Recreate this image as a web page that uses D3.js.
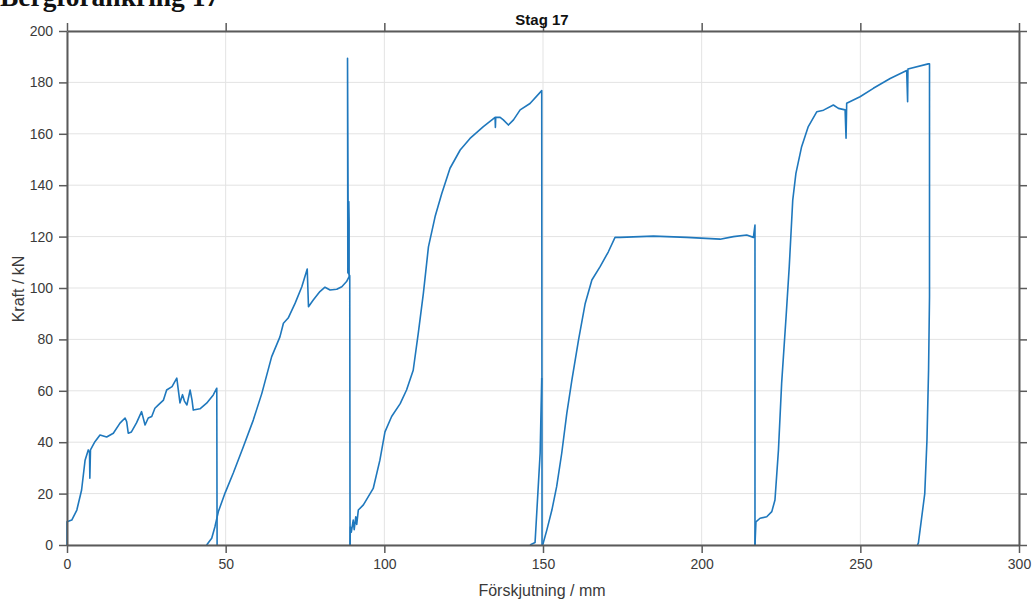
<!DOCTYPE html>
<html>
<head>
<meta charset="utf-8">
<script src="https://cdn.jsdelivr.net/npm/d3@7"></script>
<style>
  html, body { margin: 0; padding: 0; background: #fff; }
  svg { display: block; }
</style>
</head>
<body>
<svg id="chart" width="1036" height="604"></svg>
<script>
// ---- data ----
const pageTitle = "Bergförankring 17";
const chartTitle = "Stag 17";
const xLabel = "Förskjutning / mm";
const yLabel = "Kraft / kN";
const xTicks = [0, 50, 100, 150, 200, 250, 300];
const yTicks = [0, 20, 40, 60, 80, 100, 120, 140, 160, 180, 200];

// displacement (mm) and force (kN), in recorded order
const cycle1 = [[0,0],[0,9],[1.5,9.7],[3.1,13.6],[4.6,21.4],[5.7,33],[6.7,37],[7.1,36],[7.2,26],[7.4,37],[8.8,40.2],[10.4,42.8],[12.5,42],[14.6,43.5],[16.7,47.4],[18.3,49.4],[18.8,48],[19.3,43.5],[20.3,44],[21.9,47.5],[23.5,51.9],[24.6,46.7],[25.6,49.4],[26.7,50],[27.7,53.2],[28.8,54.5],[30.4,56.4],[31.4,60.3],[33.1,61.6],[34.6,64.9],[35.6,55.3],[36.4,58.5],[37,56],[37.8,54.5],[38.8,60.3],[39.4,56.4],[39.8,52.5],[41.9,53],[44,55.2],[46.1,58.4],[47.2,61],[47.3,0]];
const cycle2 = [[44,0],[45.6,2.6],[46.6,7],[47.7,13],[49.8,20.2],[52.4,28],[55.6,38.3],[58.7,48.6],[61.4,59],[64.5,73.3],[67.1,81],[68.2,86.3],[69.7,88.3],[71.9,94.1],[74,100.5],[75.7,107.4],[76.1,92.7],[77.6,95.3],[79.7,98.6],[81.3,100.3],[82.9,99.2],[85,99.5],[86.6,100.5],[88.1,102.5],[88.9,104.4],[88.9,125.8],[88.8,133.6],[88.6,128],[88.4,189.4],[88.5,106],[89.1,104.8],[89.2,0]];
const cycle3 = [[89.2,0],[89.3,7],[89.6,5],[90.2,9.7],[90.5,6],[91,11],[91.3,8],[91.8,13.6],[93.4,15.6],[96.5,22],[98.6,33],[100.2,44],[102.3,50],[105,55],[107,60.3],[109.1,68],[110.7,82.4],[112.3,97.9],[113.9,116],[116,127.8],[118.1,136.8],[120.7,146.6],[123.9,153.7],[127,158.2],[131.2,162.8],[134.9,166.4],[135,162.5],[135.1,166.4],[136.5,166.4],[137.5,165.4],[139.1,163.4],[140.7,165.4],[142.8,169.3],[145.9,171.8],[149.6,176.8],[149.7,0]];
const unload3 = [[145.9,0],[147.5,1],[148.5,22.7],[149.1,35.8],[149.6,65]];
const cycle4 = [[149.9,0],[151.2,5.8],[152.8,13.6],[154.3,22.7],[155.9,35.7],[157.5,51.2],[159.1,64.2],[161.2,79.8],[163.3,94],[165.4,103.1],[168,108.3],[170.6,114.1],[172.7,119.7],[174.3,119.7],[184.8,120.2],[195.3,119.7],[205.8,119],[210,120],[214.2,120.6],[216.3,119.7],[216.8,124.5],[216.8,0]];
const cycle5 = [[216.8,0],[217.1,9],[218.4,10.4],[220.5,11],[222.1,13],[223.1,17.5],[224.2,37],[225.2,62.9],[226.6,88.8],[227.6,108.3],[228.7,134.2],[229.7,144.6],[231.5,155],[233.6,162.8],[236.3,168.6],[238.4,169.2],[241.5,171.2],[243.1,169.9],[245.2,169.3],[245.5,158.3],[245.7,171.9],[249.9,174.4],[254.1,177.7],[259.4,181.5],[264.6,184.6],[264.9,172.5],[265,185.2],[271.4,187.2],[271.8,187.2],[271.8,96.6],[271.5,68],[271,40.9],[270.3,20],[268.3,0.8],[268,0]];
const segments = [cycle1, cycle2, cycle3, unload3, cycle4, cycle5];

// ---- layout ----
const svg = d3.select("#chart");
const L = 67, R = 1019, T = 31, B = 545;
const x = d3.scaleLinear().domain([0, 300]).range([L, R]);
const y = d3.scaleLinear().domain([0, 200]).range([B, T]);
const font = "'Liberation Sans', Arial, sans-serif";

svg.append("rect").attr("width", 1036).attr("height", 604).attr("fill", "#fff");

// grid
const grid = svg.append("g").attr("stroke", "#e3e3e3").attr("stroke-width", 1);
grid.selectAll("line.gx").data(xTicks).join("line")
  .attr("x1", d => x(d)).attr("x2", d => x(d)).attr("y1", T).attr("y2", B);
grid.selectAll("line.gy").data(yTicks).join("line")
  .attr("x1", L).attr("x2", R).attr("y1", d => y(d)).attr("y2", d => y(d));

// data line
const line = d3.line().x(d => x(d[0])).y(d => y(d[1]));
svg.append("g").selectAll("path").data(segments).join("path")
  .attr("d", line)
  .attr("fill", "none")
  .attr("stroke", "#1f78bd")
  .attr("stroke-width", 1.6)
  .attr("stroke-linejoin", "round");

// axes
function styleAxis(g, labels) {
  g.selectAll(".domain").attr("stroke", "#5a5a5a").attr("stroke-width", 2);
  g.selectAll(".tick line").attr("stroke", "#5a5a5a").attr("stroke-width", 1.5);
  g.selectAll(".tick text").attr("fill", "#3a3a3a").style("font-family", font).style("font-size", "14px");
  if (!labels) g.selectAll(".tick text").remove();
}
svg.append("g").attr("transform", `translate(0,${B})`)
  .call(d3.axisBottom(x).tickValues(xTicks).tickSize(8).tickSizeOuter(0).tickPadding(6))
  .call(g => styleAxis(g, true));
svg.append("g").attr("transform", `translate(0,${T})`)
  .call(d3.axisTop(x).tickValues(xTicks).tickSize(8).tickSizeOuter(0))
  .call(g => styleAxis(g, false));
svg.append("g").attr("transform", `translate(${L},0)`)
  .call(d3.axisLeft(y).tickValues(yTicks).tickSize(8).tickSizeOuter(0).tickPadding(6))
  .call(g => styleAxis(g, true));
svg.append("g").attr("transform", `translate(${R},0)`)
  .call(d3.axisRight(y).tickValues(yTicks).tickSize(8).tickSizeOuter(0))
  .call(g => styleAxis(g, false));

// titles
svg.append("text").attr("x", 542).attr("y", 25).attr("text-anchor", "middle")
  .style("font-family", font).style("font-size", "15px").style("font-weight", "bold")
  .attr("fill", "#111").text(chartTitle);
svg.append("text").attr("x", 542).attr("y", 596).attr("text-anchor", "middle")
  .style("font-family", font).style("font-size", "16px").attr("fill", "#3a3a3a").text(xLabel);
svg.append("text").attr("transform", `translate(24,${289}) rotate(-90)`)
  .attr("text-anchor", "middle")
  .style("font-family", font).style("font-size", "16px").attr("fill", "#3a3a3a").text(yLabel);
svg.append("text").attr("x", 0).attr("y", 6)
  .style("font-family", "'Liberation Serif', serif").style("font-size", "27.5px").style("font-weight", "bold")
  .attr("fill", "#111").text(pageTitle);
</script>
</body>
</html>
